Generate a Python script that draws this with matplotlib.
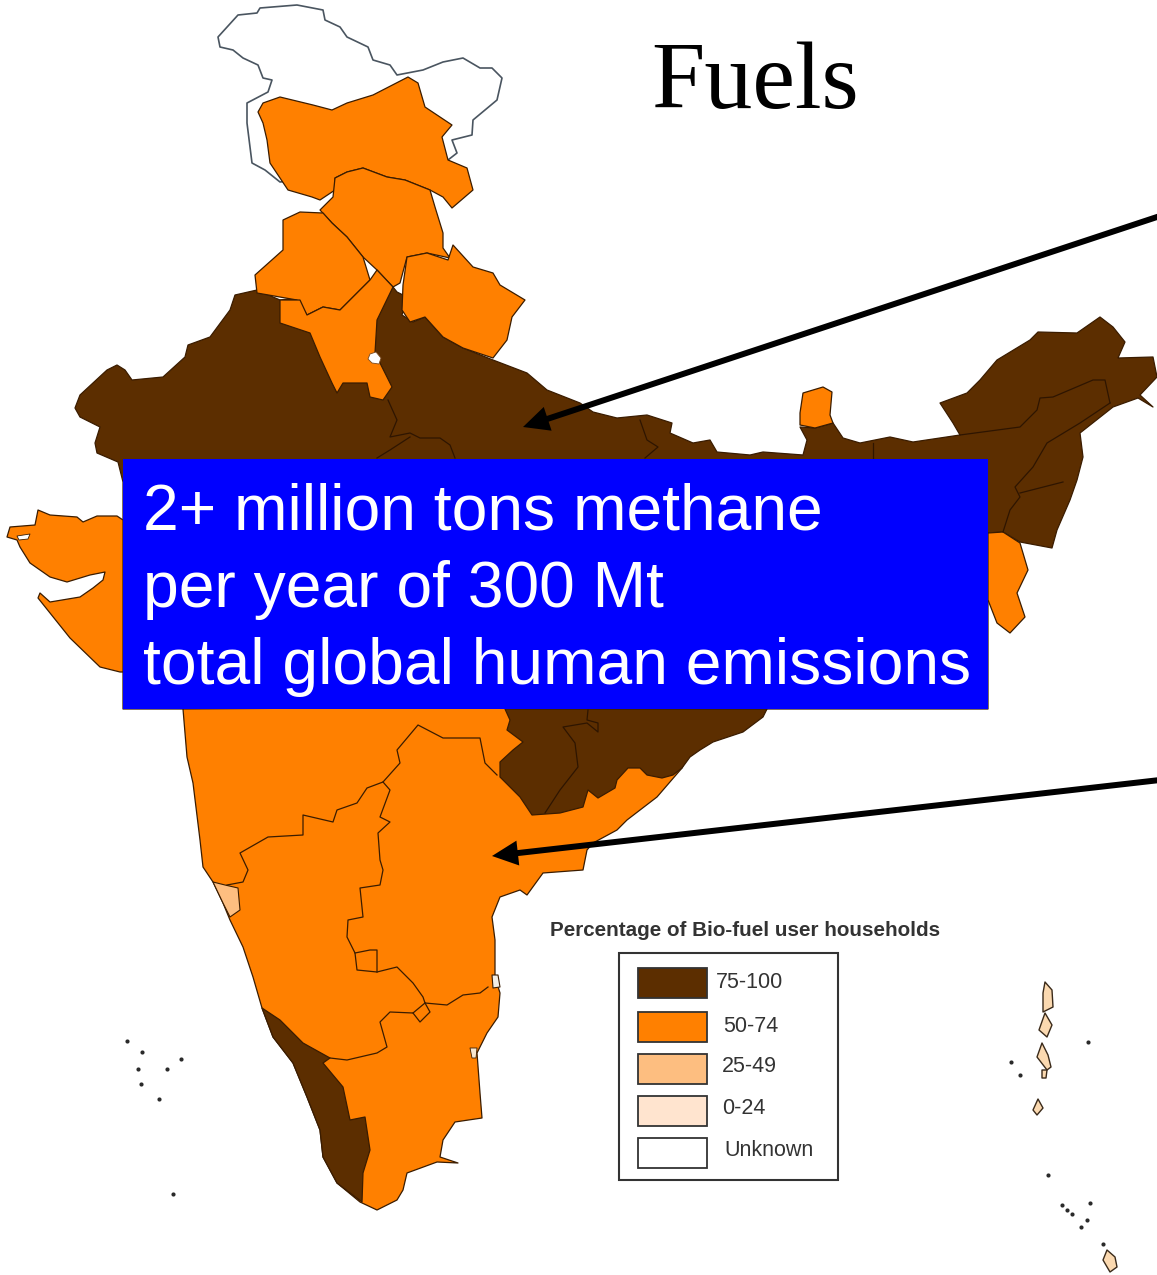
import matplotlib
matplotlib.use("Agg")
import matplotlib.pyplot as plt
from matplotlib.patches import Polygon, Rectangle

W, H = 1157, 1275
DARK, ORANGE, LIGHT, PALE = "#5C2E00", "#FF8000", "#FDBE80", "#FFE4CF"
EDGE = "#3A1C00"

title = "Fuels"
box_lines = ["2+ million tons methane", "per year of 300 Mt", "total global human emissions"]
legend_title = "Percentage of Bio-fuel user households"
legend_labels = ["75-100", "50-74", "25-49", "0-24", "Unknown"]
legend_colors = [DARK, ORANGE, LIGHT, PALE, "#FFFFFF"]

# Outlines (pixel coordinates of the map)
kashmir = [(218,37),(238,15),(257,13),(260,8),(297,5),(323,10),(325,20),(340,27),(347,37),(368,47),(373,60),(390,65),
           (397,75),(423,70),(443,62),(463,58),(480,68),(492,68),(502,78),(497,100),(473,120),(472,135),(452,140),
           (457,153),(448,160),(400,170),(300,180),(280,182),(265,170),(252,163),(247,123),(247,103),(268,92),(272,80),
           (263,78),(258,65),(243,58),(233,50),(220,47)]
jk = [(263,103),(280,97),(313,105),(332,110),(347,103),(373,95),(408,77),(418,83),(425,107),(452,125),(442,137),(448,160),
      (467,168),(473,190),(452,208),(443,197),(430,190),(405,180),(387,177),(363,168),(347,172),(335,178),(335,190),
      (320,200),(312,197),(288,190),(270,163),(267,140),(263,123),(258,112)]
himachal = [(335,178),(347,172),(363,168),(387,177),(405,180),(430,190),(435,207),(443,233),(443,248),(450,258),(427,253),
            (407,257),(400,283),(393,287),(377,270),(363,257),(347,237),(332,223),(320,210),(333,197)]
punjab = [(283,220),(300,212),(323,213),(332,223),(347,237),(363,257),(370,280),(357,293),(340,310),(323,307),(307,315),
          (297,300),(257,293),(255,275),(283,250)]
uttarakhand = [(407,257),(427,253),(448,260),(453,245),(473,267),(493,273),(500,285),(525,300),(512,317),(507,340),
               (493,358),(463,348),(443,337),(425,317),(410,322),(402,310),(403,285)]
haryana = [(280,300),(300,300),(307,315),(323,307),(340,310),(370,280),(377,270),(393,287),(377,320),(375,353),(382,367),
           (392,387),(383,400),(370,397),(367,383),(343,383),(337,393),(332,383),(320,357),(310,333),(280,323)]
delhi = [(370,354),(376,352),(381,358),(379,364),(372,363),(368,359)]
dark_north = [(123,482),(118,462),(97,453),(95,443),(100,427),(80,417),(75,408),(80,395),(107,370),(117,365),(125,370),
              (132,380),(163,377),(185,357),(188,345),(210,337),(230,310),(235,295),(257,290),(280,300),(393,287),(397,292),
              (407,297),(402,315),(413,322),(425,317),(443,337),(463,348),(493,360),(527,373),(547,390),(580,403),(593,412),
              (617,418),(647,415),(672,423),(670,433),(693,443),(710,440),(717,452),(750,455),(763,452),(803,455),(807,440),
              (800,427),(815,428),(833,423),(843,438),(860,443),(890,437),(913,442),(960,435),(953,423),(940,403),(967,393),
              (980,380),(997,360),(1030,340),(1038,332),(1077,333),(1100,317),(1113,327),(1125,342),(1118,358),(1153,357),
              (1157,377),(1140,395),(1153,407),(1138,398),(1113,407),(1080,433),(1083,457),(1077,480),(1070,500),(1057,530),
              (1052,548),(1020,542),(1003,532),(988,533),(988,709),(123,709)]
sikkim = [(803,393),(823,387),(832,392),(830,415),(833,423),(815,428),(800,425),(800,413)]
mizoram = [(988,533),(1003,532),(1020,543),(1028,570),(1017,593),(1025,617),(1010,633),(997,623),(988,600)]
gujarat = [(7,537),(10,527),(35,525),(38,510),(50,515),(77,517),(83,522),(97,516),(117,516),(123,520),(123,672),(120,672),
           (100,667),(70,638),(50,613),(38,598),(40,593),(50,602),(80,597),(93,588),(103,580),(105,572),(90,575),(67,582),
           (50,577),(30,563),(20,547),(17,540)]
rann = [(17,536),(30,534),(28,539),(19,540)]
peninsula = [(183,709),(187,757),(193,783),(200,840),(203,867),(213,882),(223,903),(230,920),(243,947),(253,977),(262,1008),
             (273,1037),(293,1063),(307,1097),(320,1130),(323,1157),(337,1183),(360,1202),(377,1210),(397,1200),(403,1190),
             (407,1173),(437,1162),(458,1163),(440,1157),(443,1140),(455,1122),(482,1118),(480,1093),(477,1053),(487,1033),
             (498,1017),(500,993),(495,977),(495,940),(492,917),(500,897),(520,890),(527,895),(543,873),(583,870),(587,850),
             (593,843),(617,830),(627,820),(657,797),(682,768),(692,745),(760,705)]
orissa = [(767,709),(763,717),(743,732),(713,742),(700,750),(690,757),(682,768),(673,775),(662,778),(647,775),(640,768),
          (628,768),(617,780),(615,788),(598,798),(588,790),(583,807),(560,813),(532,815),(520,797),(500,777),(500,762),
          (513,750),(523,742),(507,730),(510,720),(505,709)]
kerala = [(262,1008),(280,1020),(303,1043),(330,1058),(323,1063),(343,1087),(350,1120),(365,1117),(370,1150),(363,1173),
          (362,1202),(337,1183),(323,1157),(320,1130),(307,1097),(293,1063),(273,1037)]
goa = [(213,882),(225,885),(238,888),(240,910),(230,917),(223,903)]
pondy_a = [(492,975),(498,975),(500,987),(493,988)]
pondy_b = [(470,1048),(477,1048),(476,1058),(472,1058)]

inner_lines = [
    [(227,885),(243,882),(248,870),(240,853),(268,837),(303,835),(303,815),(333,822),(337,810),(357,803),(367,788),(383,782),
     (400,763),(397,750),(418,725),(443,738),(480,738),(485,763),(497,775)],
    [(383,782),(390,790),(380,817),(390,822),(378,833),(380,860),(383,870),(380,885),(360,888),(363,917),(348,920),(347,937),
     (355,953),(357,970),(377,972),(397,967),(413,983),(423,997),(425,1003),(447,1005),(463,995),(480,993),(488,987)],
    [(425,1003),(413,1013),(390,1012),(380,1022),(387,1047),(377,1053),(347,1060),(330,1058)],
    [(355,953),(370,950),(377,950),(377,972)],
    [(413,1013),(420,1022),(430,1012),(425,1003)],
]
dark_lines = [
    [(545,813),(560,790),(578,767),(575,743),(563,727),(587,723),(598,732),(598,723),(587,720),(588,710)],
    [(388,400),(397,420),(390,437),(410,433),(420,438),(440,438),(450,445),(455,458)],
    [(410,437),(390,450),(377,458)],
    [(640,420),(647,440),(658,447),(645,458)],
    [(873,443),(873,458)],
    [(960,435),(1020,427),(1037,410),(1040,398),(1053,397),(1093,380),(1105,380),(1110,403)],
    [(1110,403),(1080,423),(1047,443),(1033,467),(1015,487),(1020,497),(1010,510),(1003,532)],
    [(1020,493),(1063,482)],
]

andaman = [
    [(1045,982),(1052,990),(1053,1007),(1043,1012),(1043,993)],
    [(1045,1013),(1052,1025),(1047,1037),(1039,1030)],
    [(1042,1043),(1048,1055),(1051,1067),(1047,1070),(1037,1057)],
    [(1042,1070),(1047,1070),(1046,1078),(1042,1078)],
    [(1038,1099),(1043,1108),(1037,1115),(1033,1110)],
    [(1107,1250),(1115,1257),(1117,1267),(1110,1272),(1103,1260)],
]
isles_x = [127,142,181,138,167,141,159,173,1011,1020,1088,1048,1062,1067,1072,1090,1087,1081,1103]
isles_y = [1041,1052,1059,1069,1069,1084,1099,1194,1062,1075,1042,1175,1205,1210,1214,1203,1220,1227,1244]

fig = plt.figure(figsize=(W/100, H/100), dpi=100, facecolor="white")
ax = fig.add_axes([0, 0, 1, 1])
ax.set_xlim(0, W); ax.set_ylim(H, 0); ax.axis("off")

def poly(pts, fc, ec=EDGE, lw=0.9, z=2):
    ax.add_patch(Polygon(pts, closed=True, fc=fc, ec=ec, lw=lw, joinstyle="round", zorder=z))

poly(kashmir, "white", ec="#4A5560", lw=1.2, z=1)
poly(dark_north, DARK, z=2)
poly(peninsula, ORANGE, z=2)
poly(gujarat, ORANGE, z=2)
poly(rann, "white", lw=0.6, z=3)
poly(orissa, DARK, z=3)
poly(kerala, DARK, z=3)
poly(goa, LIGHT, lw=0.8, z=3)
poly(pondy_a, "#F2EEE6", lw=0.8, z=3)
poly(pondy_b, "#F7E6CF", lw=0.6, z=3)
for p in (jk, himachal, punjab, uttarakhand, haryana):
    poly(p, ORANGE, z=3)
poly(delhi, "white", ec="#7A4A20", lw=0.6, z=4)
poly(sikkim, ORANGE, z=3)
poly(mizoram, ORANGE, z=3)
for l in inner_lines:
    ax.plot(*zip(*l), color=EDGE, lw=0.9, zorder=4)
for l in dark_lines:
    ax.plot(*zip(*l), color="#2E1500", lw=0.9, zorder=4)
for p in andaman:
    poly(p, "#FBD9B0", ec="#3A2A1A", lw=1.0, z=3)
ax.scatter(isles_x, isles_y, s=9, c="#2A2A2A", linewidths=0, zorder=3)

# legend
ax.text(745, 930, legend_title, ha="center", va="center", family="Liberation Sans", fontsize=14.9,
        color="#333333", fontweight="bold", zorder=5)
ax.add_patch(Rectangle((619, 953), 219, 227, fc="white", ec="#333333", lw=1.5, zorder=4))
sw_top = [968, 1012, 1054, 1096, 1138]
lab_x = [716, 723, 722, 722, 724]
lab_y = [982, 1026, 1067, 1109, 1151]
for c, t, lx, ly, st in zip(legend_colors, legend_labels, lab_x, lab_y, sw_top):
    ax.add_patch(Rectangle((638, st), 69, 30, fc=c, ec="#333333", lw=1.3, zorder=5))
    ax.text(lx, ly, t, ha="left", va="center", family="Liberation Sans", fontsize=15.5,
            color="#333333", zorder=5)

# title
ax.text(651, 108, title, family="Liberation Serif", fontsize=69, color="black", ha="left", va="baseline", zorder=6)

# arrows
for (x0, y0, x1, y1) in [(1160, 216, 523, 427), (1160, 780, 492, 856)]:
    ax.arrow(x0, y0, x1-x0, y1-y0, width=6, head_width=25, head_length=26, length_includes_head=True,
             fc="black", ec="black", lw=0, zorder=6)

# blue box
ax.add_patch(Rectangle((123, 459), 865, 250, fc="#0000FF", ec="none", zorder=7))
for t, y in zip(box_lines, [530, 607, 684]):
    ax.text(143, y, t, family="Liberation Sans", fontsize=46.2, color="white", ha="left", va="baseline", zorder=8)

fig.savefig("out.png", dpi=100, facecolor="white")
